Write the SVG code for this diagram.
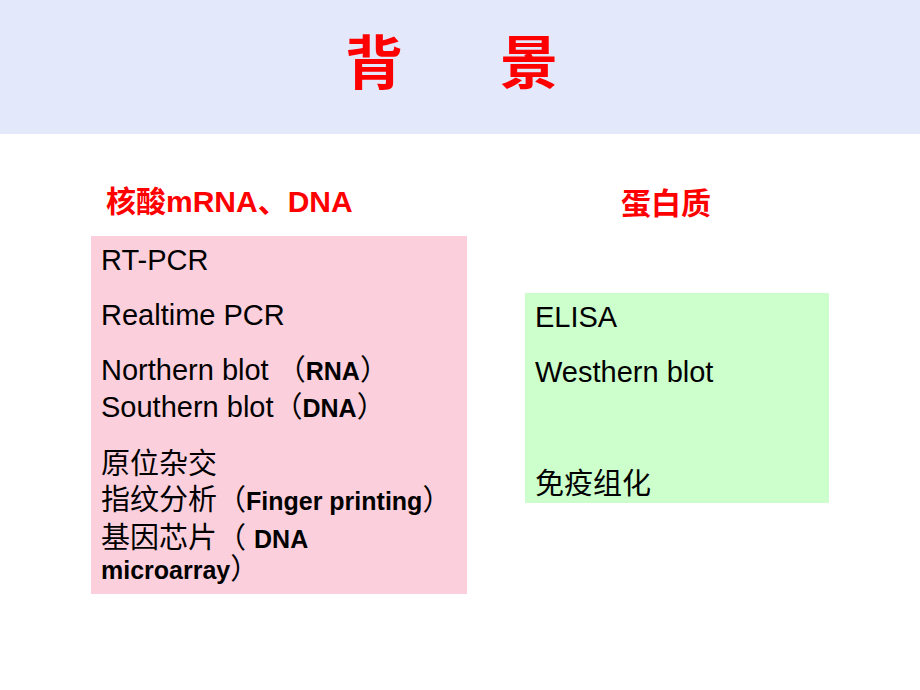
<svg xmlns="http://www.w3.org/2000/svg" width="920" height="690" viewBox="0 0 920 690">
<style>
.t{font-family:"Liberation Sans","Noto Sans CJK SC",sans-serif;fill:#000;font-size:29px}
.s{font-size:25px;font-weight:bold}
.r{font-family:"Liberation Sans","Noto Sans CJK SC",sans-serif;fill:#ff0000;font-weight:bold}
</style>
<rect x="0" y="0" width="920" height="690" fill="#fff"/>
<g id="header"><rect x="0" y="0" width="920" height="134" fill="#e3e8fb"/>
<text class="r" x="345" y="84" font-size="58">背</text>
<text class="r" x="500" y="84" font-size="58">景</text></g>
<g id="nucleic-title"><text class="r" x="106" y="212" font-size="30">核酸mRNA、DNA</text></g>
<g id="protein-title"><text class="r" x="621" y="214" font-size="30">蛋白质</text></g>
<g id="nucleic-box"><rect x="91" y="236" width="376" height="358" fill="#fccfdc"/>
<text class="t" x="101" y="270">RT-PCR</text>
<text class="t" x="101" y="325">Realtime PCR</text>
<text class="t" x="101" y="380">Northern blot （<tspan class="s">RNA</tspan>）</text>
<text class="t" x="101" y="417">Southern blot（<tspan class="s">DNA</tspan>）</text>
<text class="t" x="101" y="474">原位杂交</text>
<text class="t" x="101" y="510">指纹分析（<tspan class="s" font-size="23">Finger printing</tspan>）</text>
<text class="t" x="101" y="548">基因芯片（ <tspan class="s" font-size="23">DNA</tspan></text>
<text class="t s" x="101" y="579" font-size="23">microarray<tspan font-size="29" font-weight="normal">）</tspan></text></g>
<g id="protein-box"><rect x="525" y="293" width="304" height="210" fill="#ccffcc"/>
<text class="t" x="535" y="327">ELISA</text>
<text class="t" x="535" y="382">Westhern blot</text>
<text class="t" x="535" y="494">免疫组化</text></g>
</svg>
